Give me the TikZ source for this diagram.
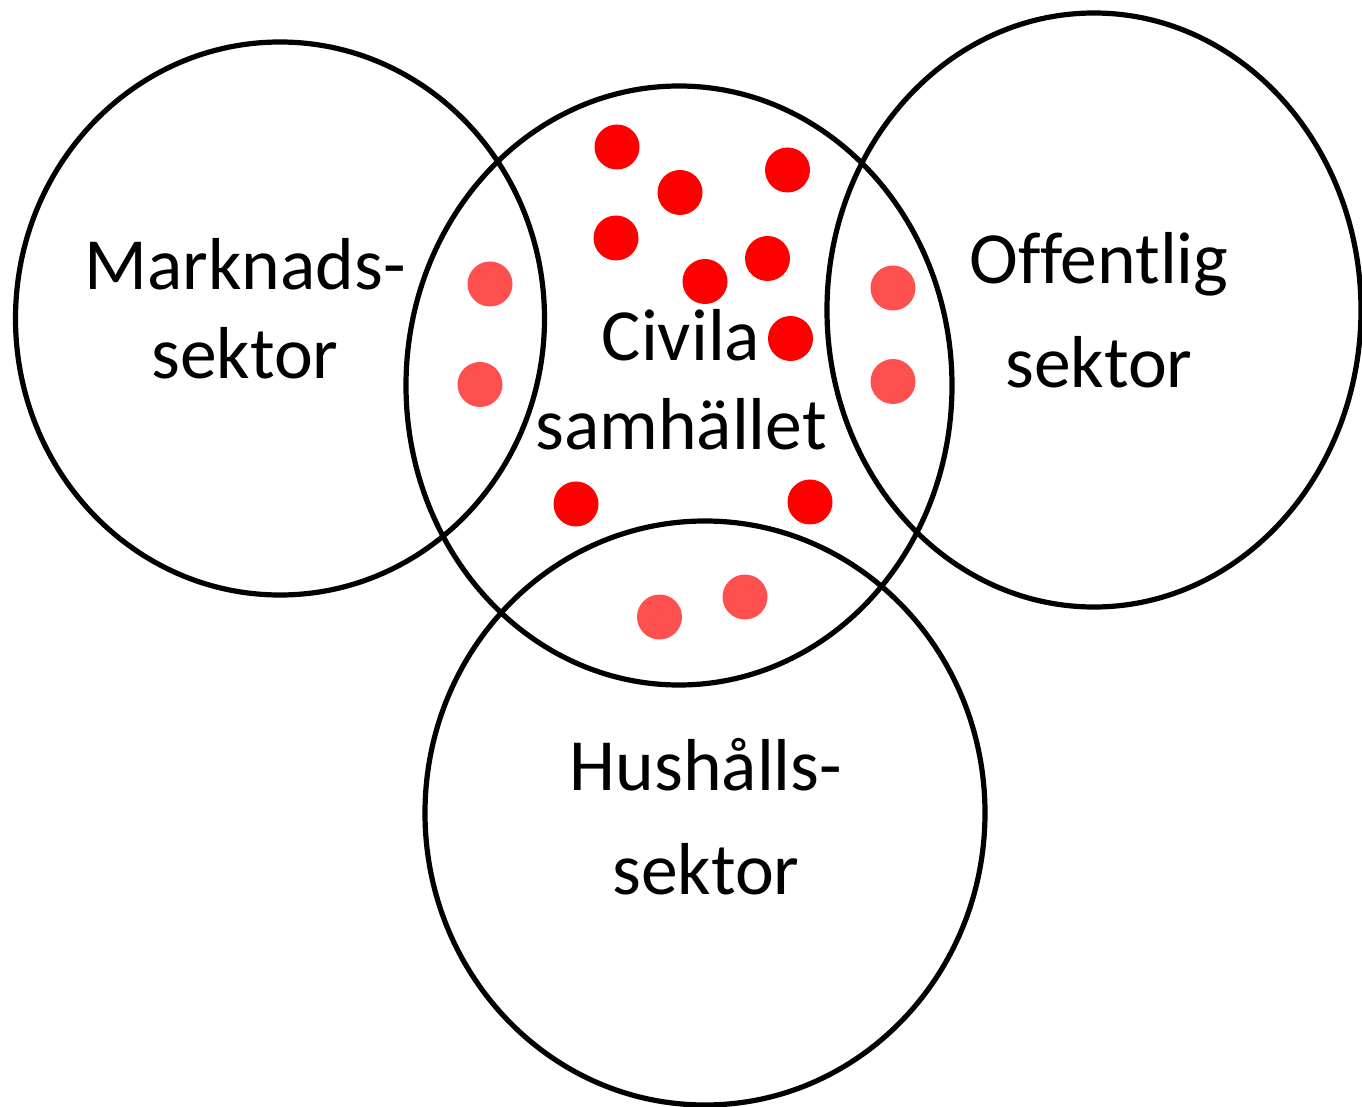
\documentclass[tikz,border=0pt]{standalone}
\usepackage{fontspec}
\setmainfont{Carlito}[Ligatures=CommonOff]
\usetikzlibrary{shapes.geometric}
\definecolor{dotred}{HTML}{FF0000}
\definecolor{dotpink}{HTML}{FF5050}

\begin{document}
\begin{tikzpicture}[x=0.5pt,y=-0.5pt,
        set/.style = {ellipse, draw, line width=2.6pt, inner sep=0pt},
        dot/.style = {circle, inner sep=0pt, minimum size=22.5pt},
        txt/.style = {align=center, anchor=base, inner sep=0pt, font=\fontsize{36.8}{44.5}\selectfont}]
        \useasboundingbox (0,0) rectangle (1362,1107);
        % the four sectors
        \node[set, minimum width=264.5pt, minimum height=276.5pt] (mark) at (280,318.5) {};
        \node[set, minimum width=273pt, minimum height=299.5pt] (civ) at (679,385.5) {};
        \node[set, minimum width=267pt, minimum height=297pt] (off) at (1094,310) {};
        \node[set, minimum width=280pt, minimum height=292pt] (hush) at (705,813) {};
        % labels (anchored at the baseline of the last line)
        \node[txt] (markL) at (245,379) {Marknads-\\sektor};
        \node[txt] (civL) at (681,450) {Civila\\samhället};
        \node[txt] (offL) at (1099,387.5) {Offentlig\\[7.5pt]sektor};
        \node[txt] (hushL) at (706,894) {Hushålls-\\[7.5pt]sektor};
        % organisations in the civil society
        \node[dot,fill=dotred] (r1) at (617,147) {};
        \node[dot,fill=dotred] (r2) at (680,192.5) {};
        \node[dot,fill=dotred] (r3) at (787.5,170) {};
        \node[dot,fill=dotred] (r4) at (616,238) {};
        \node[dot,fill=dotred] (r5) at (767.5,258.5) {};
        \node[dot,fill=dotred] (r6) at (705,281.5) {};
        \node[dot,fill=dotred] (r7) at (790.5,338.5) {};
        \node[dot,fill=dotred] (r8) at (576,504) {};
        \node[dot,fill=dotred] (r9) at (810,502) {};
        % organisations in the overlaps
        \node[dot,fill=dotpink] (p1) at (490,284) {};
        \node[dot,fill=dotpink] (p2) at (480,384.5) {};
        \node[dot,fill=dotpink] (p3) at (893,288) {};
        \node[dot,fill=dotpink] (p4) at (893,381.5) {};
        \node[dot,fill=dotpink] (p5) at (659.5,617) {};
        \node[dot,fill=dotpink] (p6) at (745,597) {};
\end{tikzpicture}
\end{document}
